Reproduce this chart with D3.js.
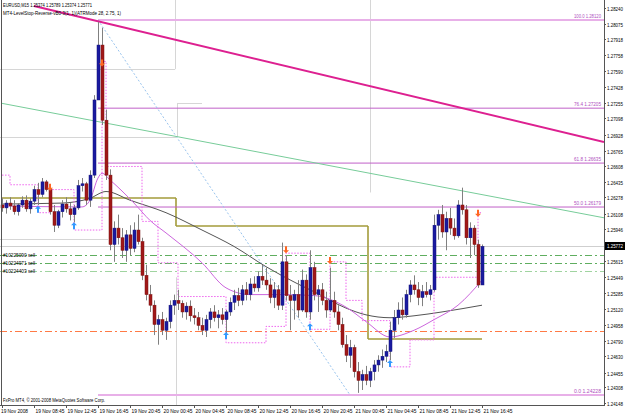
<!DOCTYPE html>
<html>
<head>
<meta charset="UTF-8"/>
<script src="https://d3js.org/d3.v7.min.js"></script>
<title>EURUSD,M15</title>
<style>
body{margin:0;background:#fff;}
svg{display:block;background:#fff;font-family:"Liberation Sans",Arial,sans-serif;}
.lbl{font-size:5.2px;}
</style>
</head>
<body>
<svg id="chart" width="625" height="415"></svg>
<script>
'use strict';
// candles (bar index 0..120)
var opens = [1.2620,1.2617,1.2622,1.2619,1.2613,1.2620,1.2625,1.2616,1.2624,1.2636,1.2631,1.2644,1.2636,1.2613,1.2599,1.2613,1.2621,1.2616,1.2610,1.2617,
  1.2640,1.2642,1.2625,1.2651,1.2729,1.2786,1.2708,1.2651,1.2579,1.2596,1.2586,1.2573,1.2589,1.2575,1.2594,1.2582,1.2547,1.2527,1.2516,1.2496,
  1.2501,1.2490,1.2499,1.2516,1.2521,1.2518,1.2509,1.2515,1.2505,1.2503,1.2495,1.2490,1.2501,1.2509,1.2503,1.2506,1.2501,1.2509,1.2519,1.2526,
  1.2521,1.2532,1.2527,1.2538,1.2534,1.2546,1.2542,1.2537,1.2524,1.2532,1.2516,1.2561,1.2526,1.2521,1.2527,1.2511,1.2542,1.2509,1.2555,1.2527,
  1.2532,1.2521,1.2511,1.2521,1.2509,1.2496,1.2475,1.2464,1.2472,1.2447,1.2438,1.2444,1.2438,1.2447,1.2454,1.2459,1.2463,1.2468,1.2490,1.2503,
  1.2511,1.2506,1.2527,1.2537,1.2532,1.2524,1.2530,1.2527,1.2532,1.2599,1.2610,1.2592,1.2606,1.2596,1.2588,1.2620,1.2615,1.2586,1.2596,1.2579,1.2537];
var highs = [1.2627,1.2625,1.2628,1.2625,1.2622,1.2629,1.2630,1.2627,1.2640,1.2643,1.2648,1.2646,1.2638,1.2620,1.2615,1.2625,1.2628,1.2622,1.2620,1.2646,
  1.2648,1.2644,1.2656,1.2734,1.2810,1.2804,1.2719,1.2657,1.2603,1.2610,1.2596,1.2594,1.2599,1.2602,1.2610,1.2586,1.2558,1.2537,1.2521,1.2506,
  1.2509,1.2503,1.2521,1.2527,1.2532,1.2521,1.2519,1.2521,1.2513,1.2509,1.2503,1.2506,1.2513,1.2516,1.2511,1.2513,1.2511,1.2524,1.2532,1.2534,
  1.2537,1.2540,1.2544,1.2546,1.2551,1.2558,1.2555,1.2544,1.2540,1.2537,1.2581,1.2567,1.2537,1.2532,1.2542,1.2553,1.2548,1.2573,1.2561,1.2537,
  1.2539,1.2530,1.2555,1.2530,1.2516,1.2503,1.2485,1.2480,1.2475,1.2457,1.2449,1.2453,1.2451,1.2459,1.2464,1.2470,1.2475,1.2499,1.2511,1.2519,
  1.2524,1.2532,1.2542,1.2547,1.2540,1.2537,1.2540,1.2537,1.2610,1.2615,1.2620,1.2613,1.2617,1.2606,1.2625,1.2638,1.2620,1.2602,1.2599,1.2584,1.2579];
var lows = [1.2613,1.2611,1.2615,1.2610,1.2609,1.2617,1.2613,1.2611,1.2620,1.2620,1.2628,1.2634,1.2610,1.2592,1.2596,1.2607,1.2612,1.2604,1.2602,1.2615,
  1.2634,1.2620,1.2618,1.2648,1.2729,1.2703,1.2646,1.2573,1.2561,1.2579,1.2565,1.2561,1.2568,1.2571,1.2579,1.2542,1.2521,1.2509,1.2485,1.2475,
  1.2485,1.2480,1.2492,1.2506,1.2511,1.2503,1.2501,1.2499,1.2496,1.2490,1.2485,1.2483,1.2492,1.2499,1.2492,1.2496,1.2485,1.2505,1.2511,1.2515,
  1.2516,1.2521,1.2521,1.2530,1.2530,1.2537,1.2532,1.2518,1.2513,1.2511,1.2511,1.2521,1.2490,1.2501,1.2503,1.2509,1.2503,1.2501,1.2521,1.2509,
  1.2516,1.2503,1.2509,1.2503,1.2490,1.2472,1.2457,1.2451,1.2441,1.2425,1.2428,1.2433,1.2431,1.2438,1.2447,1.2451,1.2457,1.2459,1.2482,1.2496,
  1.2501,1.2503,1.2519,1.2527,1.2516,1.2515,1.2524,1.2521,1.2530,1.2584,1.2586,1.2573,1.2589,1.2584,1.2586,1.2610,1.2579,1.2565,1.2568,1.2534,1.2537];
var closes = [1.2617,1.2622,1.2619,1.2613,1.2620,1.2625,1.2616,1.2624,1.2636,1.2631,1.2644,1.2636,1.2613,1.2599,1.2613,1.2621,1.2616,1.2610,1.2617,1.2640,
  1.2642,1.2625,1.2651,1.2729,1.2786,1.2708,1.2651,1.2579,1.2596,1.2586,1.2573,1.2589,1.2575,1.2594,1.2582,1.2547,1.2527,1.2516,1.2496,1.2501,
  1.2490,1.2499,1.2516,1.2521,1.2518,1.2509,1.2515,1.2505,1.2503,1.2495,1.2490,1.2501,1.2509,1.2503,1.2506,1.2501,1.2509,1.2519,1.2526,1.2521,
  1.2532,1.2527,1.2538,1.2534,1.2546,1.2542,1.2537,1.2524,1.2532,1.2516,1.2561,1.2526,1.2521,1.2527,1.2511,1.2542,1.2509,1.2555,1.2527,1.2532,
  1.2521,1.2511,1.2521,1.2509,1.2496,1.2475,1.2464,1.2472,1.2447,1.2438,1.2444,1.2438,1.2447,1.2454,1.2459,1.2463,1.2468,1.2490,1.2503,1.2511,
  1.2506,1.2527,1.2537,1.2532,1.2524,1.2530,1.2527,1.2532,1.2599,1.2610,1.2592,1.2606,1.2596,1.2588,1.2620,1.2615,1.2586,1.2596,1.2579,1.2537,1.2577];

// moving averages: [bar, price]
var maSlow = [[0,1.2621],[15,1.2622],[22,1.2627],[26,1.2634],[32,1.2625],[41,1.2612],[50,1.2594],[58,1.2577],[66,1.2556],[74,1.2538],
  [78,1.2530],[86,1.2513],[91,1.2506],[97,1.2503],[103,1.2505],[110,1.2509],[120,1.2516]];
var maFast = [[0,1.2619],[20,1.2618],[22,1.2625],[24,1.2648],[25,1.2653],[27,1.2646],[33,1.2622],[37,1.2604],[41,1.2591],[50,1.2560],
  [56,1.2534],[62,1.2527],[70,1.2527],[78,1.2526],[86,1.2514],[91,1.2499],[97,1.2483],[103,1.2490],[108,1.2501],[114,1.2516],[120,1.2542]];

// LevelStop trailing stop (step line): [bar, price]
var stopLine = [[0,1.2651],[2,1.2641],[9,1.2612],[12,1.2636],[18,1.2594],[25,1.2769],[26,1.2660],[35,1.2603],[39,1.2560],[44,1.2525],
  [56,1.2477],[66,1.2494],[71,1.2570],[77,1.2491],[82,1.2561],[86,1.2521],[90,1.2500],[97,1.2452],[102,1.2480],[108,1.2545],[119,1.2612],[120,1.2612]];
var arrowsUp = [[9,1.2615],[18,1.2598],[56,1.2484],[77,1.2493],[97,1.2455]];
var arrowsDown = [[12,1.2639],[25,1.2768],[71,1.2574],[82,1.2563],[119,1.2612]];

// objects
var fibLevels = [100.0,76.4,61.8,50.0,0.0];
var fibPrices = ['1.28120','1.27205','1.26635','1.26179','1.24228'];
var fibStartBar = 24, fibEndBar = 87;
var trendMagenta = [[8,1.28266],[150.5,1.26854]];
var trendGreen = [[0,1.27255],[150.5,1.26067]];
var oliveSteps = [[0,43.5,1.26273],[43.5,91.5,1.25982],[91.5,120,1.24809]];
// light grey day-range lines: [fromBar, toBar, price]
var dayLevels = [[-1,43.3,1.27612],[-1,43.6,1.26906],[43.8,50,1.27259],[-1,26.5,1.25848]];
// light grey separators: [bar, priceTop, priceBottom]
var daySeps = [[43.3,1.2850,1.27612],[43.8,1.27259,1.26906],[92,1.2850,1.2633],[43.6,1.2545,1.2400]];
var orderIds = ['#10225090 sell','#10224971 sell','#10224403 sell'];
var orderPrices = [1.25681,1.25598,1.25515];
var stopLevel = 1.24893;
var bid = 1.25772;

var priceTicks = ['1.28240','1.28075','1.27918','1.27758','1.27590','1.27428','1.27255','1.27098','1.26928','1.26765','1.26608','1.26435','1.26278',
  '1.26108','1.25946','1.25780','1.25615','1.25449','1.25285','1.25120','1.24958','1.24790','1.24630','1.24455','1.24308','1.24148'];
var timeTicks = ['19 Nov 2008','19 Nov 08:45','19 Nov 12:45','19 Nov 16:45','19 Nov 20:45','20 Nov 00:45','20 Nov 04:45','20 Nov 08:45',
  '20 Nov 12:45','20 Nov 16:45','20 Nov 20:45','21 Nov 00:45','21 Nov 04:45','21 Nov 08:45','21 Nov 12:45','21 Nov 16:45'];

var svg = d3.select('#chart');
var W = 604, H = 405;
var sx = d3.scaleLinear().domain([0,120]).range([2,482]);
var sy = d3.scaleLinear().domain([1.24228,1.28120]).range([395,20]);

function txt(sel,x,y,s,len,color){
  var t = sel.append('text').attr('class','lbl').attr('x',x).attr('y',y)
    .attr('fill',color||'#000').text(s);
  if(len) t.attr('textLength',len).attr('lengthAdjust','spacingAndGlyphs');
  return t;
}
function px(v){ return Math.round(v)+0.5; }

svg.append('defs').append('clipPath').attr('id','plot')
  .append('rect').attr('x',0).attr('y',0).attr('width',W).attr('height',H);
var g = svg.append('g').attr('clip-path','url(#plot)');

// light grey day ranges
dayLevels.forEach(function(d){
  g.append('line').attr('x1',sx(d[0])).attr('x2',sx(d[1])).attr('y1',px(sy(d[2]))).attr('y2',px(sy(d[2])))
    .attr('stroke','#d6d6d6');
});
daySeps.forEach(function(d){
  g.append('line').attr('x1',px(sx(d[0]))).attr('x2',px(sx(d[0]))).attr('y1',sy(d[1])).attr('y2',sy(d[2]))
    .attr('stroke','#d6d6d6');
});

// bid line
g.append('line').attr('x1',0).attr('x2',W).attr('y1',px(sy(bid))).attr('y2',px(sy(bid)))
  .attr('stroke','#cfcfcf');

// order lines
var orderColors = ['#5fae5f','#5fae5f','#a0d4a0'];
orderPrices.forEach(function(p,i){
  var y = px(sy(p));
  g.append('line').attr('x1',0).attr('x2',W).attr('y1',y).attr('y2',y)
    .attr('stroke',orderColors[i]).attr('stroke-dasharray','7,3,2,3');
});
var sly = px(sy(stopLevel));
g.append('line').attr('x1',0).attr('x2',W).attr('y1',sly).attr('y2',sly)
  .attr('stroke','#ff7a45').attr('stroke-dasharray','7,3,2,3');

// olive step line
oliveSteps.forEach(function(s,i){
  g.append('line').attr('x1',sx(s[0])).attr('x2',sx(s[1])).attr('y1',sy(s[2])).attr('y2',sy(s[2]))
    .attr('stroke','#a39b3a').attr('stroke-width',1.6);
  if(i>0){
    g.append('line').attr('x1',sx(s[0])).attr('x2',sx(s[0])).attr('y1',sy(oliveSteps[i-1][2])).attr('y2',sy(s[2]))
      .attr('stroke','#a39b3a').attr('stroke-width',1.6);
  }
});

// fibonacci
fibLevels.forEach(function(l,i){
  var y = sy(+fibPrices[i]);
  var edge = (l===100||l===0);
  g.append('line').attr('x1',sx(fibStartBar)).attr('x2',W).attr('y1',y).attr('y2',y)
    .attr('stroke',edge?'#e8b0e8':'#c060c8').attr('stroke-width',edge?2:1);
  txt(g,W-30,y-2,d3.format('.1f')(l)+'  '+fibPrices[i],27,'#b050c0');
});
g.append('line').attr('x1',sx(fibStartBar)).attr('y1',sy(+fibPrices[0]))
  .attr('x2',sx(fibEndBar)).attr('y2',sy(+fibPrices[4]))
  .attr('stroke','#99c4ee').attr('stroke-dasharray','2,2');

// trend lines
var tl = d3.line().x(function(d){return sx(d[0]);}).y(function(d){return sy(d[1]);});
g.append('path').attr('d',tl(trendGreen)).attr('stroke','#77cc99').attr('fill','none');
g.append('path').attr('d',tl(trendMagenta)).attr('stroke','#dd2090').attr('stroke-width',2).attr('fill','none');

// indicator lines
var ml = d3.line().curve(d3.curveMonotoneX).x(function(d){return sx(d[0]);}).y(function(d){return sy(d[1]);});
g.append('path').attr('d',ml(maSlow)).attr('stroke','#555').attr('fill','none');
g.append('path').attr('d',ml(maFast)).attr('stroke','#cc66dd').attr('fill','none');
var sl = d3.line().curve(d3.curveStepAfter).x(function(d){return sx(d[0]);}).y(function(d){return sy(d[1]);});
g.append('path').attr('d',sl(stopLine)).attr('stroke','#ee66ee').attr('stroke-dasharray','1.5,1.5').attr('fill','none');

// candles
var bars = d3.range(opens.length);
var cg = g.append('g');
cg.selectAll('line.wick').data(bars).enter().append('line')
  .attr('x1',function(i){return px(sx(i));}).attr('x2',function(i){return px(sx(i));})
  .attr('y1',function(i){return sy(highs[i]);}).attr('y2',function(i){return sy(lows[i]);})
  .attr('stroke','#808080');
cg.selectAll('rect.body').data(bars).enter().append('rect')
  .attr('x',function(i){return Math.round(sx(i))-1;})
  .attr('width',3)
  .attr('y',function(i){return sy(Math.max(opens[i],closes[i]));})
  .attr('height',function(i){return Math.max(1,Math.abs(sy(opens[i])-sy(closes[i])));})
  .attr('fill',function(i){return closes[i]>=opens[i]?'#1a1aa0':'#a01818';})
  .attr('stroke',function(i){return closes[i]>=opens[i]?'#10107a':'#7a1010';}).attr('stroke-width',0.5);

// arrows
function arrow(sel,up,color){
  sel.append('path').attr('d',up?'M0,-4 L3,-1 L1,-1 L1,3 L-1,3 L-1,-1 L-3,-1 Z':'M0,4 L3,1 L1,1 L1,-3 L-1,-3 L-1,1 L-3,1 Z')
    .attr('fill',color);
}
arrowsUp.forEach(function(a){ arrow(g.append('g').attr('transform','translate('+sx(a[0])+','+sy(a[1])+')'),true,'#3399ff'); });
arrowsDown.forEach(function(a){ arrow(g.append('g').attr('transform','translate('+sx(a[0])+','+sy(a[1])+')'),false,'#ff6622'); });

// order labels
orderPrices.forEach(function(p,i){ txt(g,3,sy(p)+2,orderIds[i],32); });

// header & footer
txt(svg,3,7,'EURUSD,M15  1.25374 1.25789 1.25374 1.25771',89);
txt(svg,3,15,'MT4-LevelStop-Reverse-vB0-3(1, 1)(ATRMode 28, 2.75, 1)',118);
txt(svg,3,402,'FxPro MT4, \u00a9 2001-2008 MetaQuotes Software Corp.',102);

// frame
svg.append('line').attr('x1',1.5).attr('x2',1.5).attr('y1',0).attr('y2',H).attr('stroke','#555');
svg.append('line').attr('x1',0).attr('x2',W).attr('y1',H+0.5).attr('y2',H+0.5).attr('stroke','#555');
svg.append('line').attr('x1',W+0.5).attr('x2',W+0.5).attr('y1',0).attr('y2',H+1).attr('stroke','#555');

// price axis
var pa = svg.append('g');
priceTicks.forEach(function(t){
  var y = px(sy(+t));
  pa.append('line').attr('x1',W).attr('x2',W+2).attr('y1',y).attr('y2',y).attr('stroke','#555');
  txt(pa,W+3,y+2,t,16);
});
var by = Math.round(sy(bid));
pa.append('rect').attr('x',W+1).attr('y',by-4).attr('width',20).attr('height',8).attr('fill','#000');
txt(pa,W+3,by+2,bid.toFixed(5),16,'#fff');

// time axis
var ta = svg.append('g');
timeTicks.forEach(function(t,k){
  var x = px(sx(k*8));
  ta.append('line').attr('x1',x).attr('x2',x).attr('y1',H).attr('y2',H+3).attr('stroke','#555');
  txt(ta,k===0?1:x+1,H+8,t,k===0?27:29);
});
</script>
</body>
</html>
